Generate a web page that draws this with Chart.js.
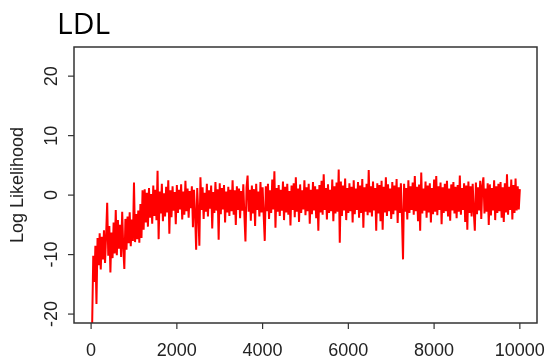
<!DOCTYPE html>
<html>
<head>
<meta charset="utf-8">
<script src="https://cdn.jsdelivr.net/npm/chart.js@4/dist/chart.umd.min.js"></script>
<style>
  html, body { margin: 0; padding: 0; background: #fff; }
  #wrap { width: 549px; height: 364px; position: relative; }
</style>
</head>
<body>
<div id="wrap"><canvas id="traceChart"></canvas></div>
<script>
// sample index step (every 25th MCMC iteration)
const step = 25;

// log likelihood values, one per 25 iterations (25 .. 10000)
const logLik = [
  -21.5, -10.2, -14.6, -8.5, -18.3, -7.2, -11.8, -6.4, -12.5, -7.0,
  -10.8, -5.9, -11.4, -6.8, -1.3, -10.2, -5.2, -13.0, -6.3, -10.6,
  -4.6, -9.8, -2.5, -10.1, -4.2, -9.0, -5.0, -10.4, -2.8, -8.8,
  -12.4, -4.0, -9.2, -3.6, -8.1, -2.9, -8.6, -4.1, -7.7, 2.1,
  -7.9, -3.2, -7.4, -2.6, -8.0, -1.5, -7.2, 0.8, -5.8, 1.0,
  -4.6, 0.4, -5.3, 1.2, -3.8, 0.2, -4.8, 1.6, -3.5, 0.9,
  -4.2, 4.1, -7.4, 0.6, -3.1, 1.9, -4.4, 0.3, -3.6, 1.4,
  -2.9, 2.5, -6.5, 0.8, -3.7, 1.5, -2.6, 0.5, -4.9, 1.7,
  -3.0, 0.9, -2.4, 1.8, -4.1, 0.6, -3.3, 2.4, -2.7, 1.1,
  -3.8, 0.7, -2.2, 1.5, -5.4, 0.9, -3.1, -9.2, 1.2, -2.9,
  -8.5, 3.0, -2.5, 1.3, -4.0, 0.4, -2.8, 1.9, -3.6, 0.8,
  -2.3, 1.6, -5.6, 0.5, -3.0, 2.2, -2.6, 1.0, -7.5, 2.0,
  -3.2, 1.2, -2.4, 1.7, -4.6, 0.6, -2.9, 1.4, -3.5, 0.9,
  -2.7, 2.5, -3.3, 0.8, -5.0, 1.5, -2.5, 1.1, -3.9, 0.7,
  -2.6, 1.8, -3.4, -7.8, 1.3, 3.3, -2.8, 0.9, -4.3, 1.6,
  -3.1, 1.0, -5.2, 1.9, -2.5, 0.6, -3.6, 2.2, -2.9, 1.3,
  -3.4, -7.7, 1.5, -2.7, 1.9, -4.0, 0.8, -3.0, 2.6, -2.4,
  4.0, -5.5, 1.2, -2.8, 1.7, -3.5, 0.9, -2.6, 2.3, -4.2,
  1.4, -2.9, 1.9, -3.3, 0.7, -5.1, 1.6, -2.5, 2.0, -3.7,
  3.0, -2.8, 1.1, -4.5, 1.8, -3.0, 0.8, -2.4, 2.5, -3.4,
  1.3, -2.7, 1.9, -4.8, 0.9, -3.2, 2.2, -2.6, 1.5, -3.9,
  1.0, -6.0, 1.7, -2.9, 2.4, -3.3, 3.5, -2.5, 1.2, -4.1,
  1.8, -3.0, 0.9, -2.7, 2.6, -4.4, 1.5, -3.1, 2.1, -2.8,
  4.3, -8.0, 2.3, -3.5, 1.6, -2.6, 2.8, -4.2, 1.2, -3.0,
  2.0, -2.7, 1.4, -4.6, 2.5, -3.2, 1.1, -2.5, 2.2, -3.8,
  1.6, -3.0, 2.7, -5.5, 1.3, -2.8, 1.9, -3.4, 4.2, -2.9,
  1.5, -3.6, 2.3, -2.6, 1.2, -6.0, 2.0, -3.1, 1.7, -4.4,
  2.4, -5.8, 1.4, -2.9, 3.0, -3.5, 1.8, -2.7, 1.1, -4.0,
  2.2, -3.2, 1.6, -2.6, 2.7, -4.7, 1.3, -3.0, 2.0, -3.6,
  -10.8, 1.9, -2.8, 1.2, -4.1, 2.5, -3.0, 1.5, -2.5, 2.1,
  -3.3, 3.2, -2.7, 1.4, -4.4, 1.8, -6.0, 3.8, -3.1, 1.1,
  -2.6, 2.3, -3.8, 1.6, -2.9, 2.0, -4.6, 1.2, -3.2, 2.6,
  -2.8, 3.2, -3.4, 1.5, -2.5, 2.1, -4.9, 1.3, -3.0, 1.9,
  -2.7, 2.4, -3.6, 1.1, -4.3, 1.8, -2.6, 2.2, -3.1, 1.4,
  -3.9, 1.7, -2.8, 3.3, -3.3, 1.2, -2.5, 2.0, -4.5, 1.6,
  -5.8, 2.3, -3.0, 1.5, -3.6, 1.9, -2.7, -6.0, 2.1, -3.2,
  1.3, -2.6, 2.4, -4.0, 1.6, 3.0, -3.1, 1.1, -2.8, 2.0,
  -5.0, 1.8, -3.4, 1.2, -2.6, 2.5, -4.2, 1.5, -3.0, 1.9,
  -2.7, 2.2, -3.8, 1.3, -4.5, 2.0, -2.9, 3.5, -3.3, 1.4,
  -2.5, 2.6, -4.1, 1.7, -3.0, 2.8, -2.6, 1.5, -2.4, 1.0
];

const xTicks = [0, 2000, 4000, 6000, 8000, 10000];
const yTicks = [-20, -10, 0, 10, 20];
const titleText = 'LDL';
const yTitle = 'Log Likelihood';

const points = logLik.map((v, i) => ({ x: (i + 1) * step, y: v }));

// R style box, ticks and labels drawn against the chart's own scales
const rAxes = {
  id: 'rAxes',
  afterDraw(chart) {
    const ctx = chart.ctx;
    const a = chart.chartArea;
    const xs = chart.scales.x, ys = chart.scales.y;
    ctx.save();
    ctx.strokeStyle = '#333';
    ctx.lineWidth = 1.5;
    ctx.strokeRect(a.left, a.top, a.right - a.left, a.bottom - a.top);

    ctx.fillStyle = '#222';
    ctx.font = '18px "Liberation Sans", Arial, sans-serif';
    ctx.textAlign = 'center';
    ctx.textBaseline = 'middle';
    ctx.lineWidth = 1.2;
    xTicks.forEach(t => {
      const px = xs.getPixelForValue(t);
      ctx.beginPath();
      ctx.moveTo(px, a.bottom);
      ctx.lineTo(px, a.bottom + 6);
      ctx.stroke();
      ctx.fillText(String(t), px, 351);
    });
    yTicks.forEach(t => {
      const py = ys.getPixelForValue(t);
      ctx.beginPath();
      ctx.moveTo(a.left, py);
      ctx.lineTo(a.left - 6, py);
      ctx.stroke();
      ctx.save();
      ctx.translate(52, py);
      ctx.rotate(-Math.PI / 2);
      ctx.fillText(String(t), 0, 0);
      ctx.restore();
    });

    ctx.save();
    ctx.translate(18, (a.top + a.bottom) / 2);
    ctx.rotate(-Math.PI / 2);
    ctx.fillText(yTitle, 0, 0);
    ctx.restore();

    ctx.fillStyle = '#000';
    ctx.font = '30px "Open Sans", "Noto Sans", sans-serif';
    ctx.textAlign = 'left';
    ctx.textBaseline = 'alphabetic';
    ctx.fillText(titleText, 57, 34);
    ctx.restore();
  }
};

new Chart(document.getElementById('traceChart'), {
  type: 'line',
  data: {
    datasets: [{
      data: points,
      borderColor: '#ff0000',
      borderWidth: 2,
      pointRadius: 0,
      tension: 0,
      fill: false
    }]
  },
  options: {
    responsive: true,
    maintainAspectRatio: false,
    animation: false,
    layout: { padding: { left: 74, right: 12, top: 47, bottom: 41 } },
    plugins: { legend: { display: false }, tooltip: { enabled: false } },
    scales: {
      x: { type: 'linear', min: -399, max: 10400, display: false },
      y: { type: 'linear', min: -21.5, max: 24.9, display: false }
    }
  },
  plugins: [rAxes]
});
</script>
</body>
</html>
